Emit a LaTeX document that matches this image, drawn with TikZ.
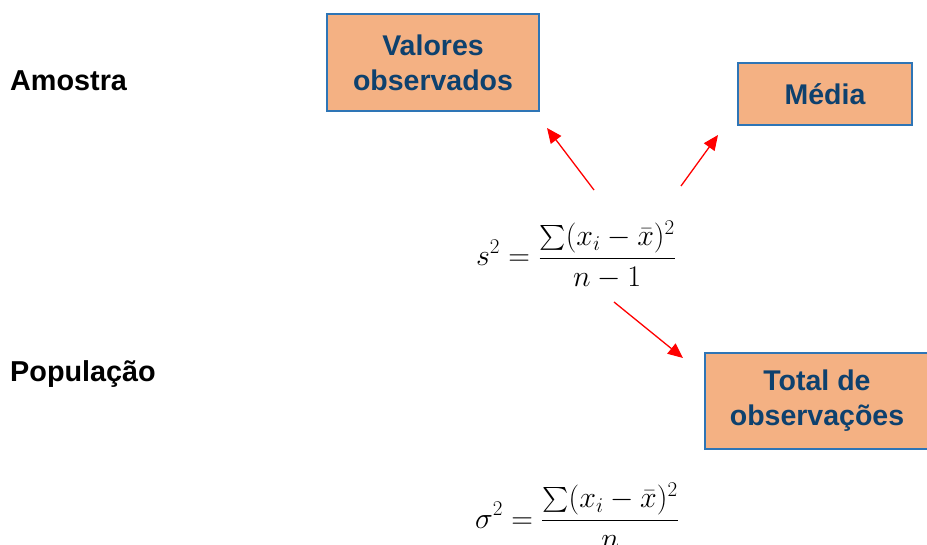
\RequirePackage{fix-cm}
\documentclass[tikz,border=0pt]{standalone}
\usepackage{amsmath}
\usepackage{fontspec}
\setmainfont{Liberation Sans}
\usepackage{tikz}
\usetikzlibrary{arrows.meta}

\definecolor{boxfill}{HTML}{F4B183}
\definecolor{boxline}{HTML}{2E75B6}
\definecolor{boxtext}{HTML}{0E416E}

\tikzset{
  termbox/.style={draw=boxline, line width=2.6pt, fill=boxfill, text=boxtext,
    font=\fontsize{28.5}{35}\selectfont\bfseries, align=center, inner sep=0pt},
  sidelabel/.style={anchor=base west, inner sep=0pt, font=\fontsize{28.8}{34}\selectfont\bfseries},
  formula/.style={inner sep=0pt, font=\fontsize{30}{36}\selectfont},
  redarrow/.style={red, line width=1.3pt, -{Triangle[length=15pt, width=13pt]}}
}

\begin{document}
\begin{tikzpicture}[x=1pt, y=-1pt]
  \clip (0,0) rectangle (927,545);
  \fill[white] (0,0) rectangle (927,545);

  % rótulos
  \node[sidelabel] (amostra) at (10,91) {Amostra};
  \node[sidelabel] (populacao) at (10,382) {População};

  % caixas
  \node[termbox, minimum width=212pt, minimum height=97pt] (valores) at (433,62.5) {Valores\\observados};
  \node[termbox, minimum width=174pt, minimum height=62pt] (media) at (825,94) {Média};
  \node[termbox, minimum width=224pt, minimum height=96pt] (total) at (817,401) {Total de\\observações};

  % fórmulas
  \node[formula] (amostral) at (576,255) {$\displaystyle s^2 = \frac{\sum(x_i-\bar{x})^2}{n-1}$};
  \node[formula] (populacional) at (577,516) {$\displaystyle \sigma^2 = \frac{\sum(x_i-\bar{x})^2}{n}$};

  % setas
  \coordinate (va) at (594,190);
  \coordinate (vb) at (547,128);
  \coordinate (ma) at (681,186);
  \coordinate (mb) at (718,135);
  \coordinate (ta) at (614,302);
  \coordinate (tb) at (683,358);
  \draw[redarrow] (va) -- (vb);
  \draw[redarrow] (ma) -- (mb);
  \draw[redarrow] (ta) -- (tb);
\end{tikzpicture}
\end{document}
